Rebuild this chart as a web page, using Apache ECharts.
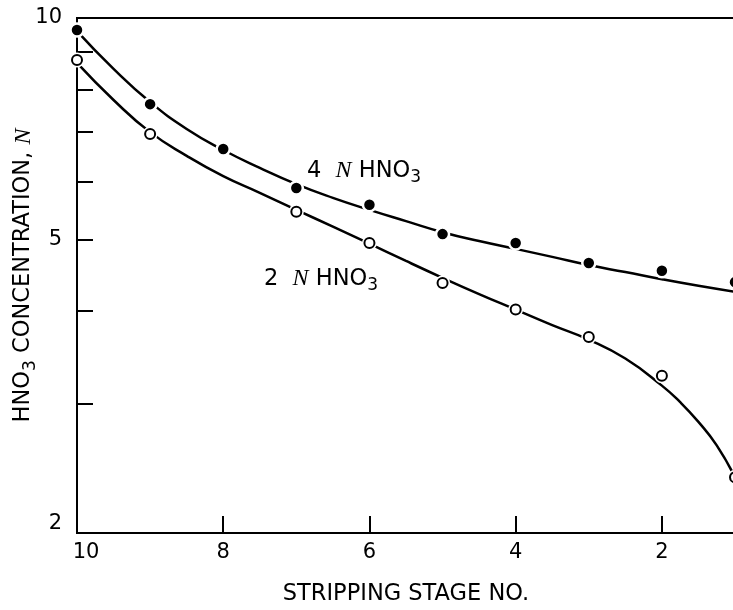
<!DOCTYPE html>
<html>
<head>
<meta charset="utf-8">
<script src="https://cdn.jsdelivr.net/npm/echarts@6/dist/echarts.min.js"></script>
<style>
  html, body { margin: 0; padding: 0; background: #fff; }
  #chart { width: 733px; height: 610px; }
</style>
</head>
<body>
<div id="chart"></div>
<script>
// measured points
const stages4N = [10, 9, 8, 7, 6, 5, 4, 3, 2, 1];
const conc4N = [9.63, 7.64, 6.64, 5.88, 5.58, 5.09, 4.95, 4.65, 4.54, 4.38];
const stages2N = [10, 9, 7, 6, 5, 4, 3, 2, 1];
const conc2N = [8.77, 6.96, 5.46, 4.95, 4.37, 4.02, 3.69, 3.27, 2.38];

// drawn curves (half stages, quarter stages at the steep end)
const curve4NStages = [10, 9.5, 9, 8.5, 8, 7.5, 7, 6.5, 6, 5.5, 5, 4.5, 4, 3.5, 3, 2.5, 2, 1.5, 1];
const curve4N = [9.60, 8.53, 7.69, 7.07, 6.62, 6.26, 5.95, 5.70, 5.49, 5.30, 5.12, 4.98, 4.86, 4.74, 4.62, 4.52, 4.42, 4.33, 4.25];
const curve2NStages = [10, 9.5, 9, 8.5, 8, 7.5, 7, 6.5, 6, 5.5, 5, 4.5, 4, 3.5, 3, 2.5, 2, 1.75, 1.5, 1.25, 1];
const curve2N = [8.69, 7.74, 7.00, 6.50, 6.10, 5.79, 5.49, 5.21, 4.94, 4.68, 4.44, 4.22, 4.02, 3.83, 3.66, 3.45, 3.17, 3.01, 2.83, 2.63, 2.38];

// axis ticks / labels
const xTicks = [8, 6, 4, 2];
const xLabels = [10, 8, 6, 4, 2];
const yTicks = [3, 4, 5, 6, 7, 8, 9];
const yLabels = [2, 5, 10];

const FONT = 'DejaVu Sans';
const pairs = (xs, ys) => xs.map((x, i) => [x, ys[i]]);

// rich styles for HNO3 subscript and italic N
const rich = {
  t: { fontFamily: FONT, fontSize: 22.5, color: '#000', lineHeight: 24 },
  s: { fontFamily: FONT, fontSize: 17, color: '#000', lineHeight: 17, verticalAlign: 'bottom' },
  i: { fontFamily: 'Liberation Serif', fontStyle: 'italic', fontSize: 24, color: '#000', lineHeight: 24 },
  pad: { lineHeight: 31, width: 0 }
};

const chart = echarts.init(document.getElementById('chart'));

chart.setOption({
  animation: false,
  backgroundColor: '#fff',
  grid: {
    left: 77, right: -2, top: 18, bottom: 77,
    outerBoundsMode: 'none',
    show: true, borderColor: '#000', borderWidth: 2
  },
  xAxis: {
    type: 'value', inverse: true, min: 1, max: 10,
    name: 'STRIPPING STAGE NO.',
    nameLocation: 'middle', nameGap: 50, nameMoveOverlap: false,
    nameTextStyle: { fontFamily: FONT, fontSize: 22.5, color: '#000' },
    axisLine: { lineStyle: { color: '#000', width: 2 } },
    axisTick: { inside: true, length: 17, customValues: xTicks, lineStyle: { color: '#000', width: 2 } },
    axisLabel: {
      customValues: xLabels, margin: 9, color: '#000', fontFamily: FONT, fontSize: 21,
      formatter: v => v === 10 ? '{p|10}' : String(v),
      rich: { p: { fontFamily: FONT, fontSize: 21, color: '#000', padding: [0, 0, 0, 18] } }
    },
    splitLine: { show: false }
  },
  yAxis: {
    type: 'log', logBase: 10, min: 2, max: 10,
    name: '{pad|}{t|HNO}{s|3}{t| CONCENTRATION, }{i|N}',
    nameLocation: 'middle', nameGap: 38, nameMoveOverlap: false,
    nameTextStyle: { rich: rich },
    axisLine: { lineStyle: { color: '#000', width: 2 } },
    axisTick: { inside: true, length: 16, customValues: yTicks, lineStyle: { color: '#000', width: 2 } },
    axisLabel: {
      customValues: yLabels, margin: 15, color: '#000', fontFamily: FONT, fontSize: 21,
      formatter: v => v === 2 ? '{p|2}' : String(v),
      rich: { p: { fontFamily: FONT, fontSize: 21, color: '#000', padding: [0, 0, 18, 0] } }
    },
    splitLine: { show: false }
  },
  graphic: [
    {
      type: 'text', left: 307, top: 159, z: 10,
      style: { text: '{pad|}{t|4  }{i|N}{t| HNO}{s|3}', rich: rich }
    },
    {
      type: 'text', left: 264, top: 267, z: 10,
      style: { text: '{pad|}{t|2  }{i|N}{t| HNO}{s|3}', rich: rich }
    }
  ],
  series: [
    {
      type: 'line', name: '4N curve', data: pairs(curve4NStages, curve4N),
      smooth: 0.5, showSymbol: false, z: 2,
      lineStyle: { color: '#000', width: 2.5 }
    },
    {
      type: 'line', name: '2N curve', data: pairs(curve2NStages, curve2N),
      smooth: 0.5, showSymbol: false, z: 2,
      lineStyle: { color: '#000', width: 2.5 }
    },
    {
      type: 'scatter', name: '4N', data: pairs(stages4N, conc4N), z: 4,
      symbol: 'circle', symbolSize: 13,
      itemStyle: { color: '#000', borderColor: '#fff', borderWidth: 2.5, opacity: 1 }
    },
    {
      type: 'scatter', name: '2N halo', data: pairs(stages2N, conc2N), z: 3,
      symbol: 'circle', symbolSize: 15,
      itemStyle: { color: '#fff', opacity: 1 }
    },
    {
      type: 'scatter', name: '2N', data: pairs(stages2N, conc2N), z: 4,
      symbol: 'emptyCircle', symbolSize: 10,
      itemStyle: { color: '#000', borderWidth: 1.7, opacity: 1 }
    }
  ]
});
</script>
</body>
</html>
